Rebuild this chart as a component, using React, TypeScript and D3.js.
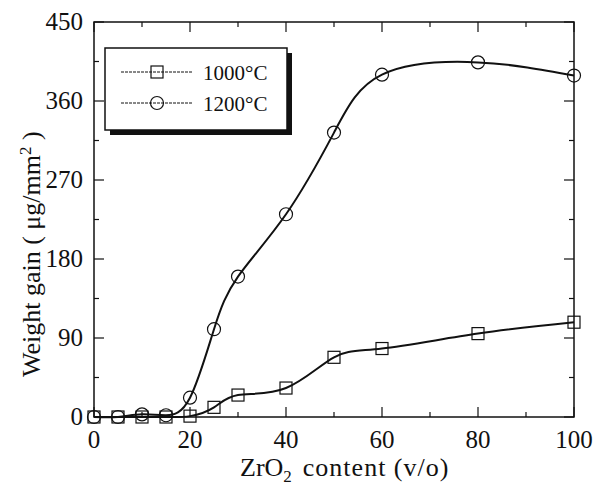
import React from "react";
import * as d3 from "d3";

// ZrO2 content (v/o)
const zro2 = [0, 5, 10, 15, 20, 25, 30, 40, 50, 60, 80, 100];
// Weight gain (µg/mm²) after oxidation at each temperature
const gain1000 = [0, 0, 0, 0, 1, 11, 25, 33, 68, 78, 95, 108];
const gain1200 = [0, 0, 3, 2, 22, 100, 160, 231, 324, 390, 404, 389];

const xTicks = [0, 20, 40, 60, 80, 100];
const yTicks = [0, 90, 180, 270, 360, 450];
const seriesNames = ["1000°C", "1200°C"];

const W = 602;
const H = 485;
const M = { left: 94, right: 28, top: 22, bottom: 68 };
const FONT = "'Liberation Serif', 'Times New Roman', serif";

export default function App() {
  const x = d3.scaleLinear().domain([0, 100]).range([M.left, W - M.right]);
  const y = d3.scaleLinear().domain([0, 450]).range([H - M.bottom, M.top]);

  const line = d3
    .line<[number, number]>()
    .x((d) => x(d[0]))
    .y((d) => y(d[1]))
    .curve(d3.curveNatural);

  const pts1000 = zro2.map((v, i) => [v, gain1000[i]] as [number, number]);
  const pts1200 = zro2.map((v, i) => [v, gain1200[i]] as [number, number]);

  const minorX = d3.range(10, 100, 20);
  const minorY = d3.range(45, 450, 90);
  const x0 = x(0), x1 = x(100), y0 = y(0), y1 = y(450);

  const sq = 12;
  const cr = 6.5;

  const legX = 105, legY = 48, legW = 182, legH = 82;

  return (
    <svg width={W} height={H} style={{ position: "absolute", left: 0, top: 0, background: "#fff" }}>
      <rect width={W} height={H} fill="#fff" />
      {/* ticks on all four sides, pointing inward */}
      <g stroke="#111" strokeWidth={1.2}>
        {xTicks.map((t) => (
          <g key={"xt" + t}>
            <line x1={x(t)} x2={x(t)} y1={y0} y2={y0 - 10} />
            <line x1={x(t)} x2={x(t)} y1={y1} y2={y1 + 10} />
          </g>
        ))}
        {minorX.map((t) => (
          <g key={"xm" + t}>
            <line x1={x(t)} x2={x(t)} y1={y0} y2={y0 - 5} />
            <line x1={x(t)} x2={x(t)} y1={y1} y2={y1 + 5} />
          </g>
        ))}
        {yTicks.map((t) => (
          <g key={"yt" + t}>
            <line x1={x0} x2={x0 + 10} y1={y(t)} y2={y(t)} />
            <line x1={x1} x2={x1 - 10} y1={y(t)} y2={y(t)} />
          </g>
        ))}
        {minorY.map((t) => (
          <g key={"ym" + t}>
            <line x1={x0} x2={x0 + 5} y1={y(t)} y2={y(t)} />
            <line x1={x1} x2={x1 - 5} y1={y(t)} y2={y(t)} />
          </g>
        ))}
      </g>
      <rect x={x0} y={y1} width={x1 - x0} height={y0 - y1} fill="none" stroke="#111" strokeWidth={1.5} />

      {/* tick labels */}
      <g fontFamily={FONT} fontSize={25} fill="#111">
        {xTicks.map((t) => (
          <text key={"xl" + t} x={x(t)} y={y0 + 31} textAnchor="middle">
            {t}
          </text>
        ))}
        {yTicks.map((t) => (
          <text key={"yl" + t} x={x0 - 11} y={y(t) + 8} textAnchor="end">
            {t}
          </text>
        ))}
      </g>

      {/* axis titles */}
      <text x={240} y={476} fontFamily={FONT} fontSize={26} fill="#111">
        ZrO<tspan fontSize={17} dy={6}>2</tspan>
        <tspan dy={-6} dx={11} letterSpacing={1}>content (v/o)</tspan>
      </text>
      <text
        transform={`translate(40, 377) rotate(-90)`}
        textAnchor="start"
        fontFamily={FONT}
        fontSize={26}
        fill="#111"
      >
        Weight gain ( μg/mm<tspan fontSize={17} dy={-9}>2</tspan>
        <tspan dy={9}> )</tspan>
      </text>

      {/* curves */}
      <path d={line(pts1000) ?? ""} fill="none" stroke="#111" strokeWidth={2} />
      <path d={line(pts1200) ?? ""} fill="none" stroke="#111" strokeWidth={2} />

      {/* markers */}
      <g fill="none" stroke="#111" strokeWidth={1.2}>
        {pts1000.map(([a, b], i) => (
          <rect key={"s" + i} x={x(a) - sq / 2} y={y(b) - sq / 2} width={sq} height={sq} />
        ))}
        {pts1200.map(([a, b], i) => (
          <circle key={"c" + i} cx={x(a)} cy={y(b)} r={cr} />
        ))}
      </g>

      {/* legend with drop shadow */}
      <rect x={legX + 5} y={legY + 5} width={legW} height={legH} fill="#111" />
      <rect x={legX} y={legY} width={legW} height={legH} fill="#fff" stroke="#111" strokeWidth={1.5} />
      {seriesNames.map((name, i) => {
        const ly = legY + 24 + i * 31;
        return (
          <g key={name}>
            <line x1={legX + 16} x2={legX + 88} y1={ly} y2={ly} stroke="#111" strokeWidth={1} strokeDasharray="3 1" />
            {i === 0 ? (
              <rect x={legX + 52 - 6} y={ly - 6} width={12} height={12} fill="none" stroke="#111" strokeWidth={1.2} />
            ) : (
              <circle cx={legX + 52} cy={ly} r={6.5} fill="none" stroke="#111" strokeWidth={1.2} />
            )}
            <text x={legX + 98} y={ly + 8} fontFamily={FONT} fontSize={21} fill="#111">
              {name}
            </text>
          </g>
        );
      })}
    </svg>
  );
}
